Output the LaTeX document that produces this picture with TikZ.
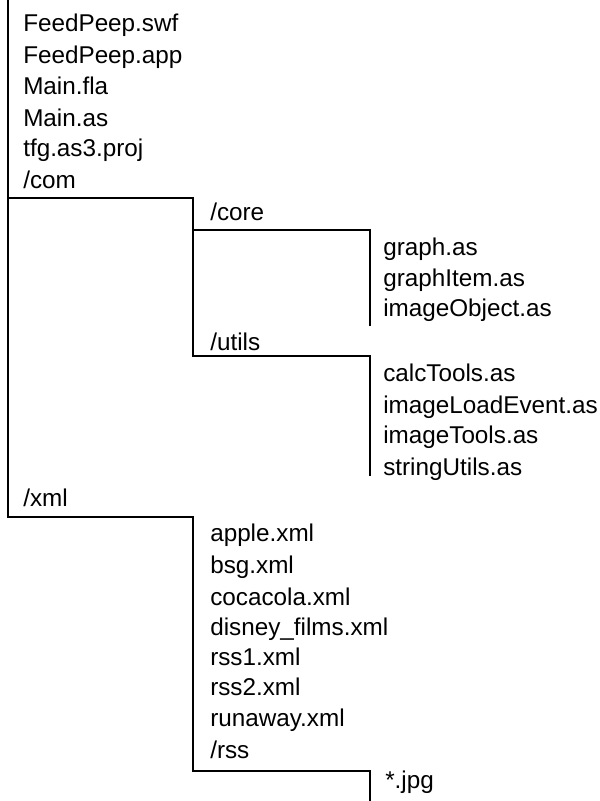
\documentclass[tikz,border=0pt]{standalone}
\usepackage{fontspec}
\setmainfont{Liberation Sans}
\begin{document}
\begin{tikzpicture}[x=0.75pt,y=-0.75pt,
  entry/.style={anchor=base west,inner sep=0pt,font=\fontsize{18.2}{21}\selectfont},
  branch/.style={line width=1.5pt,line cap=rect}]
\useasboundingbox (0,0) rectangle (600,801);

% top level
\node[entry] (swf)   at (23,31.7)  {FeedPeep.swf};
\node[entry] (app)   at (23,63.3)  {FeedPeep.app};
\node[entry] (fla)   at (23,94.3)  {Main.fla};
\node[entry] (mainas) at (23,126)  {Main.as};
\node[entry] (proj)  at (23,156.7) {tfg.as3.proj};
\node[entry] (com)   at (23,188.3) {/com};
\node[entry] (xml)   at (23,506.7) {/xml};

% /com
\node[entry] (core)  at (210,220.7) {/core};
\node[entry] (utils) at (210,350)   {/utils};

% /com/core
\node[entry] (graph)     at (383,255)   {graph.as};
\node[entry] (graphitem) at (383,286.7) {graphItem.as};
\node[entry] (imgobj)    at (383,316.7) {imageObject.as};

% /com/utils
\node[entry] (calc)      at (383,381.7) {calcTools.as};
\node[entry] (loadevt)   at (383,413.3) {imageLoadEvent.as};
\node[entry] (imgtools)  at (383,443.3) {imageTools.as};
\node[entry] (strutils)  at (383,475)   {stringUtils.as};

% /xml
\node[entry] (apple)    at (210,541.7) {apple.xml};
\node[entry] (bsg)      at (210,573)   {bsg.xml};
\node[entry] (coke)     at (210,605)   {cocacola.xml};
\node[entry] (disney)   at (210,635)   {disney\_films.xml};
\node[entry] (rssone)   at (210,665)   {rss1.xml};
\node[entry] (rsstwo)   at (210,695.7) {rss2.xml};
\node[entry] (runaway)  at (210,726.7) {runaway.xml};
\node[entry] (rss)      at (210,758)   {/rss};

% /xml/rss
\node[entry] (jpg)      at (385,788)   {*.jpg};

% bracket corners
\coordinate (rootTop) at (8,0);
\coordinate (comL)  at (8,198);
\coordinate (comR)  at (193,198);
\coordinate (comEnd) at (193,356);
\coordinate (coreR) at (370,230);
\coordinate (coreL) at (193,230);
\coordinate (coreEnd) at (370,325);
\coordinate (utilsR) at (370,356);
\coordinate (utilsEnd) at (370,475);
\coordinate (xmlL)  at (8,517);
\coordinate (xmlR)  at (193,517);
\coordinate (xmlEnd) at (193,771);
\coordinate (rssR)  at (370,771);
\coordinate (rssEnd) at (370,801);

% tree lines
\draw[branch] (rootTop) -- (xmlL) -- (xmlR) -- (xmlEnd) -- (rssR) -- (rssEnd);
\draw[branch] (comL) -- (comR) -- (comEnd) -- (utilsR) -- (utilsEnd);
\draw[branch] (coreL) -- (coreR) -- (coreEnd);
\end{tikzpicture}
\end{document}
